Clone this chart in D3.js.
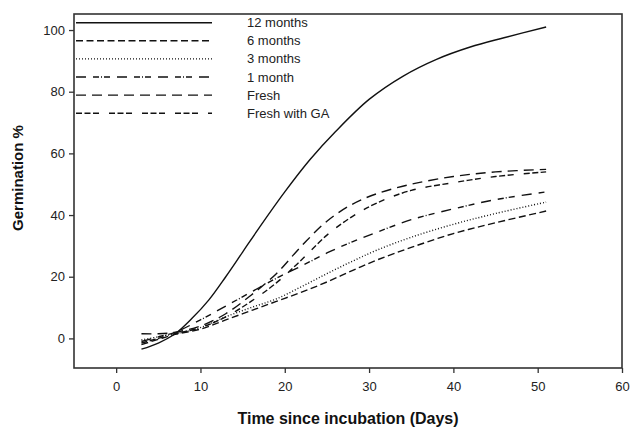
<!DOCTYPE html>
<html lang="en">
<head>
  <meta charset="UTF-8">
  <title>Germination</title>
  <script src="https://d3js.org/d3.v7.min.js"></script>
  <style>
    html, body { margin: 0; padding: 0; background: #fff; }
    .axis text { font-family: "Liberation Sans", Arial, sans-serif; font-size: 13px; fill: #222; }
    .axis line { stroke: #333; stroke-width: 1.3px; }
    .title { font-family: "Liberation Sans", Arial, sans-serif; font-weight: bold; fill: #111; }
    .legend text { font-family: "Liberation Sans", Arial, sans-serif; font-size: 13px; fill: #222; }
    .curve { fill: none; stroke: #111; stroke-width: 1.4px; }
  </style>
</head>
<body>
  <div id="container"></div>
  <script>
    const width = 630;
    const height = 429;
    const margin = {top: 14, right: 8, bottom: 61, left: 74};

    // data
    const xTicks = [0, 10, 20, 30, 40, 50, 60];
    const yTicks = [0, 20, 40, 60, 80, 100];
    const seriesNames = ['12 months', '6 months', '3 months', '1 month', 'Fresh', 'Fresh with GA'];

    const days12m = [3, 5, 7, 9, 11, 13, 15, 17, 20, 23, 26, 30, 34, 38, 42, 46, 51];
    const germ12m = [-3.5, -1.5, 1.5, 6.5, 12.5, 20, 28, 36, 47.5, 58, 67, 77.5, 85, 90.5, 94.5, 97.5, 101];

    const days = [3, 5, 7, 10, 13, 16, 19, 22, 25, 28, 31, 35, 40, 45, 51];
    const germ6m = [-2, -0.3, 1.3, 3, 6, 9, 12, 15, 18.3, 22, 25.5, 29.5, 34, 37.5, 41.3];
    const germ3m = [-0.5, 0.5, 1.5, 3.5, 7, 10, 12.8, 16.8, 21, 25, 28.7, 32.8, 37, 40.5, 44.2];
    const germ1m = [-1, 0.5, 2, 6, 10.5, 15, 19.5, 23.5, 27.7, 31.3, 34.5, 38.5, 42, 45, 47.5];
    const germFresh = [1.5, 1.5, 2, 4, 8, 14, 21, 30, 38, 43.5, 47, 50, 52.5, 54, 54.8];
    const germGA = [-1.5, 0, 1.5, 3.5, 7, 12, 18, 25.5, 33.5, 39.5, 44, 48, 50.5, 52.5, 54];

    const series = [
      {name: seriesNames[0], x: days12m, y: germ12m, dash: null},
      {name: seriesNames[1], x: days, y: germ6m, dash: '7,3.5'},
      {name: seriesNames[2], x: days, y: germ3m, dash: '1,2'},
      {name: seriesNames[3], x: days, y: germ1m, dash: '10,7,6,2,1,2,6,7'},
      {name: seriesNames[4], x: days, y: germFresh, dash: '10,6'},
      {name: seriesNames[5], x: days, y: germGA, dash: '6,2.5,6,2.5,6,10'}
    ];

    const svg = d3.select('#container').append('svg')
      .attr('width', width).attr('height', height);

    const x = d3.scaleLinear().domain([-5, 60])
      .range([margin.left, width - margin.right]);
    const y = d3.scaleLinear().domain([-9.6, 105.2])
      .range([height - margin.bottom, margin.top]);

    // axes
    const xAxis = svg.append('g').attr('class', 'axis')
      .attr('transform', `translate(0,${height - margin.bottom})`)
      .call(d3.axisBottom(x).tickValues(xTicks).tickSize(5).tickPadding(9));
    xAxis.select('.domain').remove();

    const yAxis = svg.append('g').attr('class', 'axis')
      .attr('transform', `translate(${margin.left},0)`)
      .call(d3.axisLeft(y).tickValues(yTicks).tickSize(5).tickPadding(4));
    yAxis.select('.domain').remove();

    // frame
    svg.append('rect')
      .attr('x', margin.left).attr('y', margin.top)
      .attr('width', width - margin.left - margin.right)
      .attr('height', height - margin.top - margin.bottom)
      .attr('fill', 'none').attr('stroke', '#333').attr('stroke-width', 1.6);

    // curves
    const line = d3.line()
      .x(d => x(d[0])).y(d => y(d[1]))
      .curve(d3.curveCatmullRom.alpha(0.5));

    svg.selectAll('.curve').data(series).enter().append('path')
      .attr('class', 'curve')
      .attr('d', s => line(s.x.map((d, i) => [d, s.y[i]])))
      .attr('stroke-dasharray', s => s.dash);

    // legend
    const legend = svg.append('g').attr('class', 'legend');
    const rows = legend.selectAll('g').data(series).enter().append('g')
      .attr('transform', (d, i) => `translate(0,${22.7 + i * 18.1})`);
    rows.append('line')
      .attr('x1', 76).attr('x2', 212)
      .attr('stroke', '#111').attr('stroke-width', 1.4)
      .attr('stroke-dasharray', d => d.dash);
    rows.append('text')
      .attr('x', 247).attr('dy', '0.35em')
      .text(d => d.name);

    // titles
    svg.append('text').attr('class', 'title')
      .attr('x', (margin.left + width - margin.right) / 2).attr('y', 424)
      .attr('text-anchor', 'middle').style('font-size', '16px')
      .text('Time since incubation (Days)');

    svg.append('text').attr('class', 'title')
      .attr('transform', 'translate(23,178) rotate(-90)')
      .attr('text-anchor', 'middle').style('font-size', '15px')
      .text('Germination %');
  </script>
</body>
</html>
